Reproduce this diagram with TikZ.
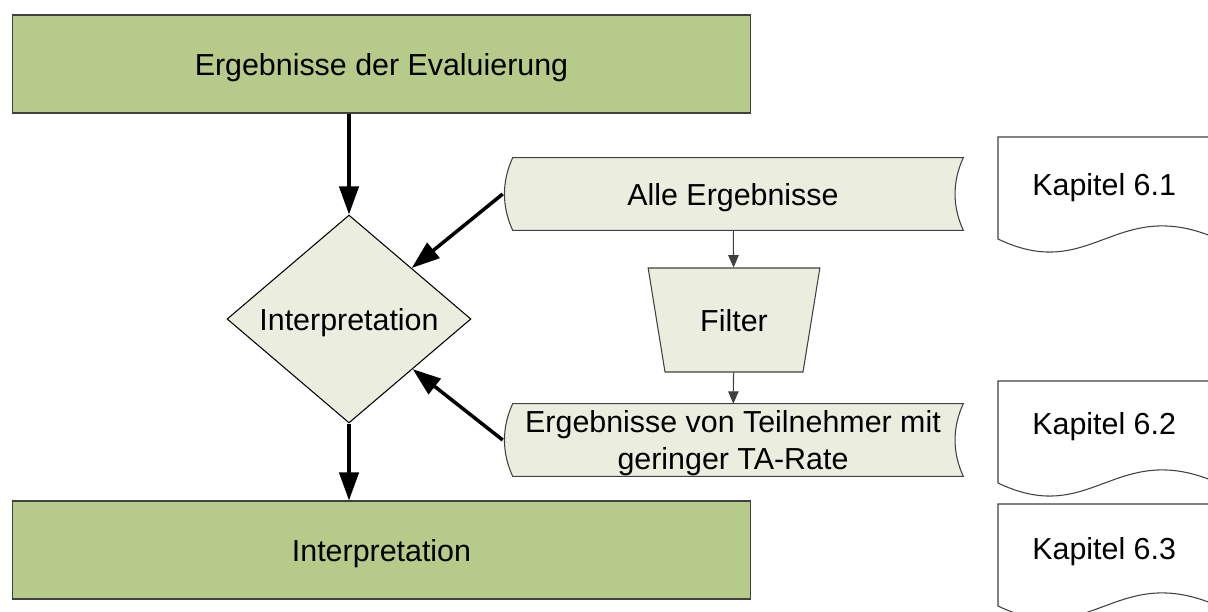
\documentclass[tikz,border=0pt]{standalone}
\usepackage{fontspec}
\setmainfont{Liberation Sans}
\usepackage{xcolor}
\usepackage{tikz}
\usetikzlibrary{
	arrows.meta,
	positioning,
	shapes.geometric,
	backgrounds,
	}

\definecolor{boxgreen}{RGB}{182,202,137}
\definecolor{palegreen}{RGB}{235,238,222}
\definecolor{edgegray}{RGB}{64,64,64}

% stored data shape behind a node
\newcommand{\storeshape}[1]{%
	\begin{scope}[on background layer]
		\draw[draw=edgegray, fill=palegreen, line width=0.6pt]
			([xshift=0.2cm]#1.north west) -- (#1.north east)
			.. controls ([xshift=-0.22cm,yshift=-0.48cm]#1.north east) and ([xshift=-0.22cm,yshift=0.48cm]#1.south east) .. (#1.south east)
			-- ([xshift=0.2cm]#1.south west)
			.. controls ([xshift=-0.02cm,yshift=0.48cm]#1.south west) and ([xshift=-0.02cm,yshift=-0.48cm]#1.north west) .. cycle;
	\end{scope}}

% document shape, top left corner given
\newcommand{\docshape}[1]{%
	\draw[draw=edgegray, fill=white, line width=0.6pt, shift={#1}]
		(0,0) -- (0,102) .. controls (100,150) and (120,45) .. (240,112) -- (240,0) -- cycle;}

\begin{document}
\begin{tikzpicture}[x=0.02cm, y=-0.02cm, font=\fontsize{17.3}{21}\selectfont,
		every node/.style={text depth=0pt},
		phase/.style={draw=edgegray, fill=boxgreen, line width=0.6pt, minimum width=14.78cm, minimum height=1.96cm, inner sep=0pt},
		decide/.style={diamond, draw=black, fill=palegreen, line width=0.6pt, aspect=1.17, minimum width=4.88cm, minimum height=4.16cm, inner sep=0pt},
		store/.style={minimum width=9.2cm, minimum height=1.44cm, inner sep=0pt, align=center},
		sieve/.style={trapezium, trapezium stretches=true, trapezium left angle=74, trapezium right angle=74, shape border rotate=180, draw=edgegray, fill=palegreen, line width=0.6pt, minimum width=3.44cm, minimum height=2.08cm},
		chapter/.style={anchor=west, inner sep=0pt},
		fat/.style={line width=2pt, -{Triangle[length=16pt,width=11pt]}},
		flow/.style={line width=0.6pt, edgegray, -{Triangle[length=7pt,width=6pt]}},
	]
			\useasboundingbox (0,0) rectangle (1208,612);
			\clip (0,0) rectangle (1208,612);

			\docshape{(998,137)}
			\docshape{(998,381)}
			\docshape{(998,504)}

			\node[phase] (top) at (381.5,64) {Ergebnisse der Evaluierung};
			\node[decide] (interp) at (349,319) {Interpretation};
			\node[phase] (bot) at (381.5,550) {Interpretation};
			\node[store] (alle) at (733,194) {Alle Ergebnisse};
			\node[sieve] (filter) at (734,320) {Filter};
			\node[store] (teiln) at (733,440) {Ergebnisse von Teilnehmer mit\\geringer TA-Rate};
			\node[chapter] (kap1) at (1032,184) {Kapitel 6.1};
			\node[chapter] (kap2) at (1032,423) {Kapitel 6.2};
			\node[chapter] (kap3) at (1032,548) {Kapitel 6.3};

			\storeshape{alle}
			\storeshape{teiln}

			\draw[fat] (interp |- top.south) -- (interp);
			\draw[fat] (interp.south) -- (interp |- bot.north);
			\draw[fat] (alle.west) -- (interp);
			\draw[fat] (teiln.west) -- (interp);
			\draw[flow] (alle) -- (filter);
			\draw[flow] (filter) -- (teiln);

		\end{tikzpicture}
\end{document}
